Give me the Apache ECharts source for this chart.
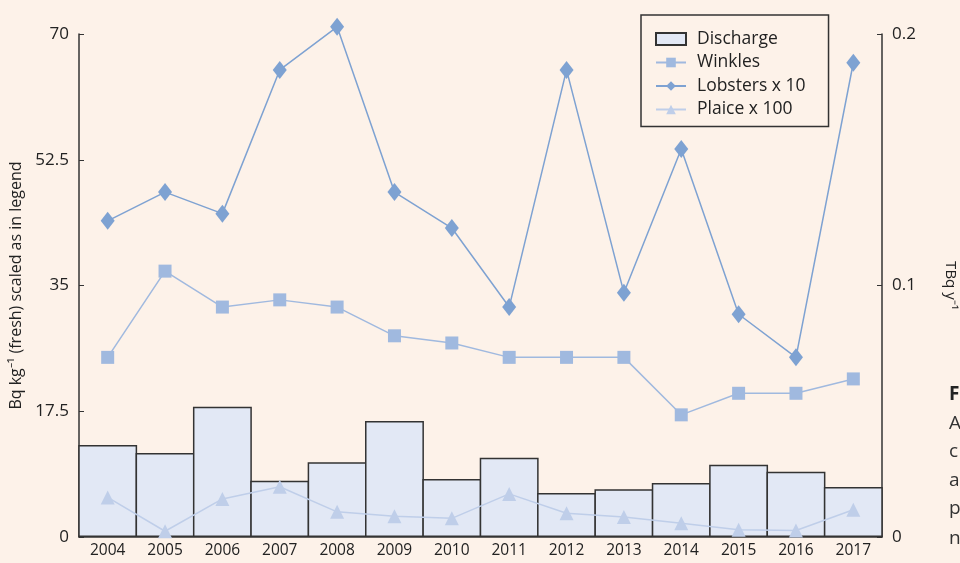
<!DOCTYPE html>
<html><head><meta charset="utf-8">
<script src="https://cdn.jsdelivr.net/npm/echarts@6/dist/echarts.min.js"></script>
<style>html,body{margin:0;padding:0;background:#fdf2e9;}#c{width:960px;height:563px;}</style>
</head><body><div id="c"></div>
<script>
const years = ['2004','2005','2006','2007','2008','2009','2010','2011','2012','2013','2014','2015','2016','2017'];
const discharge = [0.0366,0.0334,0.0518,0.0224,0.0297,0.0461,0.0231,0.0315,0.0175,0.0190,0.0215,0.0287,0.0259,0.0199];
const winkles = [25,37,32,33,32,28,27,25,25,25,17,20,20,22];
const lobsters = [44,48,45,65,71,48,43,32,65,34,54,31,25,66];
const plaice = [5.5,0.8,5.3,7.0,3.5,2.9,2.6,6.0,3.3,2.8,1.9,1.0,0.9,3.8];
const leftTicks = [0,17.5,35,52.5,70];
const rightTicks = [0,0.1,0.2];

const FONT = 'Open Sans';
const chart = echarts.init(document.getElementById('c'), null, {renderer:'canvas'});
chart.setOption({
  backgroundColor: '#fdf2e9',
  animation: false,
  textStyle: {fontFamily: FONT},
  grid: {left: 79, right: 78, top: 34, bottom: 26, containLabel: false, outerBoundsMode: 'none'},
  legend: {
    orient: 'vertical', left: 641, top: 15,
    padding: [15, 23, 8, 14], itemGap: 5.5,
    borderColor: '#333', borderWidth: 1.5,
    itemWidth: 30, itemHeight: 12,
    textStyle: {fontSize: 17.5, color: '#222', fontFamily: FONT, padding: [0,0,0,6]},
    data: [{name:'Discharge', icon:'rect'},'Winkles','Lobsters x 10','Plaice x 100']
  },
  xAxis: {
    type: 'category', data: years, boundaryGap: true,
    axisLine: {lineStyle: {color: '#333', width: 1.5}},
    axisTick: {show: false},
    axisLabel: {fontSize: 15.5, color: '#222', margin: 6}
  },
  yAxis: [{
    type: 'value', min: 0, max: 70, interval: 17.5,
    position: 'left',
    name: 'Bq kg\u207B\u00B9 (fresh) scaled as in legend',
    nameLocation: 'middle', nameGap: 52,
    nameTextStyle: {fontSize: 16, color: '#222'},
    axisLine: {show: true, lineStyle: {color: '#333', width: 1.5}},
    axisTick: {show: true, inside: true, length: 5, lineStyle: {color: '#333'}},
    splitLine: {show: false},
    axisLabel: {fontSize: 17, color: '#222', margin: 10,
      formatter: v => leftTicks.includes(v) ? String(v) : ''}
  },{
    type: 'value', min: 0, max: 0.2, interval: 0.1,
    position: 'right',
    name: 'TBq y\u207B\u00B9',
    nameLocation: 'middle', nameGap: 61, nameRotate: -90,
    nameTextStyle: {fontSize: 15, color: '#222'},
    axisLine: {show: true, lineStyle: {color: '#333', width: 1.5}},
    axisTick: {show: true, inside: true, length: 5, lineStyle: {color: '#333'}},
    splitLine: {show: false},
    axisLabel: {fontSize: 17, color: '#222', margin: 10,
      formatter: v => rightTicks.includes(Math.round(v*10)/10) ? String(Math.round(v*10)/10) : ''}
  }],
  series: [{
    name: 'Discharge', type: 'bar', yAxisIndex: 1, data: discharge,
    barWidth: 58.9,
    itemStyle: {color: '#e2e8f5', borderColor: '#333', borderWidth: 1.5}
  },{
    name: 'Winkles', type: 'line', data: winkles, clip: false,
    symbol: 'rect', symbolSize: 13,
    lineStyle: {color: '#a0b9df', width: 1.5},
    itemStyle: {color: '#a0b9df'}
  },{
    name: 'Lobsters x 10', type: 'line', data: lobsters, clip: false,
    symbol: 'diamond', symbolSize: [14, 18],
    lineStyle: {color: '#7ea2d2', width: 1.5},
    itemStyle: {color: '#7ea2d2'}
  },{
    name: 'Plaice x 100', type: 'line', data: plaice, clip: false,
    symbol: 'triangle', symbolSize: 14,
    lineStyle: {color: '#bfcee9', width: 1.5},
    itemStyle: {color: '#bfcee9'}
  }],
  graphic: [
    {type:'text', left: 949, top: 385, style:{text:'F', font:'bold 19px "Open Sans"', fill:'#222'}},
    {type:'text', left: 949, top: 414, style:{text:'A', font:'19px "Open Sans"', fill:'#333'}},
    {type:'text', left: 949, top: 442, style:{text:'c', font:'19px "Open Sans"', fill:'#333'}},
    {type:'text', left: 949, top: 471, style:{text:'a', font:'19px "Open Sans"', fill:'#333'}},
    {type:'text', left: 949, top: 499, style:{text:'p', font:'19px "Open Sans"', fill:'#333'}},
    {type:'text', left: 949, top: 529, style:{text:'n', font:'19px "Open Sans"', fill:'#333'}}
  ]
});
</script></body></html>
